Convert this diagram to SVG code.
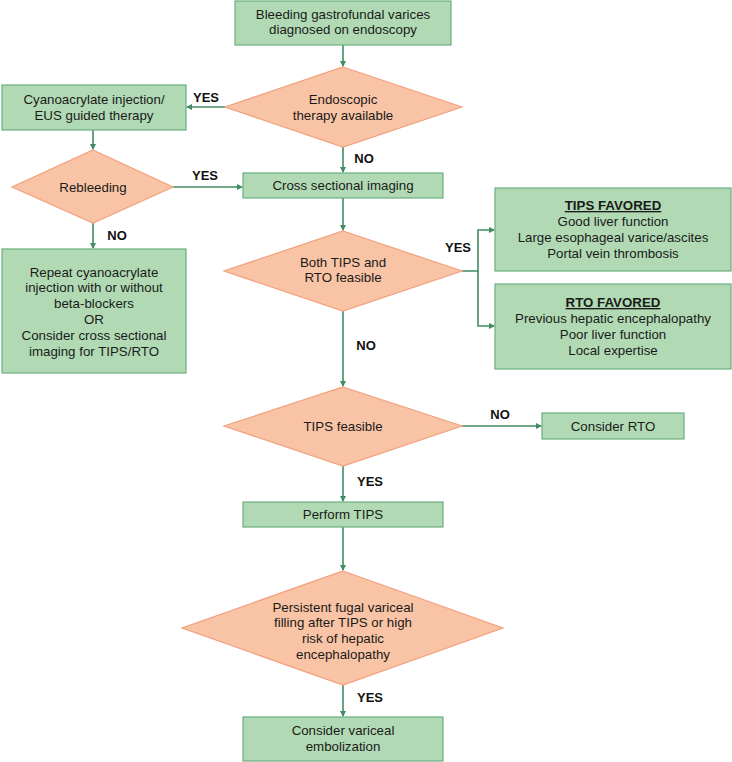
<svg xmlns="http://www.w3.org/2000/svg" width="732" height="762" viewBox="0 0 732 762">
<defs>
<style>
.box{fill:#b1dab4;stroke:#6cae80;stroke-width:1.2}
.dia{fill:#f9c4a5;stroke:#f2a07e;stroke-width:1.2}
.t{font-family:"Liberation Sans",Arial,sans-serif;font-size:13.3px;fill:#1a1a1a;text-anchor:middle}
.b{font-family:"Liberation Sans",Arial,sans-serif;font-size:13px;font-weight:bold;fill:#111;text-anchor:middle}
.u{font-weight:bold;text-decoration:underline}
.c{fill:none;stroke:#3f8c62;stroke-width:1.6}
</style>
<marker id="ah" markerWidth="6" markerHeight="6" refX="5" refY="3" orient="auto" markerUnits="userSpaceOnUse">
<path d="M0,0 L6,3 L0,6 Z" fill="#3f8c62"/>
</marker>
</defs>
<rect width="732" height="762" fill="#fff"/>

<g id="connectors">
<line class="c" x1="343" y1="45" x2="343" y2="66" marker-end="url(#ah)"/>
<line class="c" x1="225" y1="107" x2="187" y2="107" marker-end="url(#ah)"/>
<line class="c" x1="93" y1="130" x2="93" y2="149" marker-end="url(#ah)"/>
<line class="c" x1="173" y1="187" x2="242" y2="187" marker-end="url(#ah)"/>
<line class="c" x1="343" y1="147" x2="343" y2="172" marker-end="url(#ah)"/>
<line class="c" x1="93" y1="223" x2="93" y2="248" marker-end="url(#ah)"/>
<line class="c" x1="343" y1="198" x2="343" y2="230" marker-end="url(#ah)"/>
<polyline class="c" points="462,271 478,271 478,230 494,230" marker-end="url(#ah)"/>
<polyline class="c" points="478,271 478,326 494,326" marker-end="url(#ah)"/>
<line class="c" x1="343" y1="311" x2="343" y2="386" marker-end="url(#ah)"/>
<line class="c" x1="462" y1="426" x2="541" y2="426" marker-end="url(#ah)"/>
<line class="c" x1="343" y1="466" x2="343" y2="501" marker-end="url(#ah)"/>
<line class="c" x1="343" y1="527" x2="343" y2="570" marker-end="url(#ah)"/>
<line class="c" x1="343" y1="685" x2="343" y2="716" marker-end="url(#ah)"/>
<text class="b" x="206" y="102">YES</text>
<text class="b" x="364" y="163">NO</text>
<text class="b" x="205" y="180">YES</text>
<text class="b" x="117" y="240">NO</text>
<text class="b" x="458" y="252">YES</text>
<text class="b" x="366" y="350">NO</text>
<text class="b" x="500" y="419">NO</text>
<text class="b" x="370" y="486">YES</text>
<text class="b" x="370" y="702">YES</text>
</g>

<g id="start">
<rect class="box" x="235" y="1" width="216" height="44"/>
<text class="t" x="343" y="19">Bleeding gastrofundal varices</text>
<text class="t" x="343" y="34">diagnosed on endoscopy</text>
</g>

<g id="endoscopic">
<polygon class="dia" points="343,67 462,107 343,147 225,107"/>
<text class="t" x="343" y="104">Endoscopic</text>
<text class="t" x="343" y="120">therapy available</text>
</g>

<g id="cyano">
<rect class="box" x="2" y="85" width="184" height="45"/>
<text class="t" x="94" y="104">Cyanoacrylate injection/</text>
<text class="t" x="94" y="120">EUS guided therapy</text>
</g>

<g id="rebleeding">
<polygon class="dia" points="93,150 173,187 93,223 12,187"/>
<text class="t" x="93" y="192">Rebleeding</text>
</g>

<g id="repeat">
<rect class="box" x="2" y="249" width="184" height="124"/>
<text class="t" x="94" y="277">Repeat cyanoacrylate</text>
<text class="t" x="94" y="292">injection with or without</text>
<text class="t" x="94" y="308">beta-blockers</text>
<text class="t" x="94" y="324">OR</text>
<text class="t" x="94" y="340">Consider cross sectional</text>
<text class="t" x="94" y="356">imaging for TIPS/RTO</text>
</g>

<g id="cross">
<rect class="box" x="243" y="173" width="200" height="25"/>
<text class="t" x="343" y="190">Cross sectional imaging</text>
</g>

<g id="both">
<polygon class="dia" points="343,231 462,271 343,311 224,271"/>
<text class="t" x="343" y="267">Both TIPS and</text>
<text class="t" x="343" y="282">RTO feasible</text>
</g>

<g id="tipsfavored">
<rect class="box" x="495" y="188" width="236" height="83"/>
<text class="t u" x="613" y="210">TIPS FAVORED</text>
<text class="t" x="613" y="226">Good liver function</text>
<text class="t" x="613" y="242">Large esophageal varice/ascites</text>
<text class="t" x="613" y="258">Portal vein thrombosis</text>
</g>

<g id="rtofavored">
<rect class="box" x="495" y="284" width="236" height="85"/>
<text class="t u" x="613" y="307">RTO FAVORED</text>
<text class="t" x="613" y="323">Previous hepatic encephalopathy</text>
<text class="t" x="613" y="339">Poor liver function</text>
<text class="t" x="613" y="355">Local expertise</text>
</g>

<g id="tipsfeasible">
<polygon class="dia" points="343,387 462,426 343,466 224,426"/>
<text class="t" x="343" y="431">TIPS feasible</text>
</g>

<g id="considerrto">
<rect class="box" x="542" y="413" width="142" height="26"/>
<text class="t" x="613" y="431">Consider RTO</text>
</g>

<g id="performtips">
<rect class="box" x="243" y="502" width="200" height="25"/>
<text class="t" x="343" y="519">Perform TIPS</text>
</g>

<g id="persistent">
<polygon class="dia" points="343,571 503,628 343,685 182,628"/>
<text class="t" x="343" y="612">Persistent fugal variceal</text>
<text class="t" x="343" y="627">filling after TIPS or high</text>
<text class="t" x="343" y="643">risk of hepatic</text>
<text class="t" x="343" y="659">encephalopathy</text>
</g>

<g id="embolization">
<rect class="box" x="243" y="717" width="200" height="44"/>
<text class="t" x="343" y="735">Consider variceal</text>
<text class="t" x="343" y="751">embolization</text>
</g>
</svg>
